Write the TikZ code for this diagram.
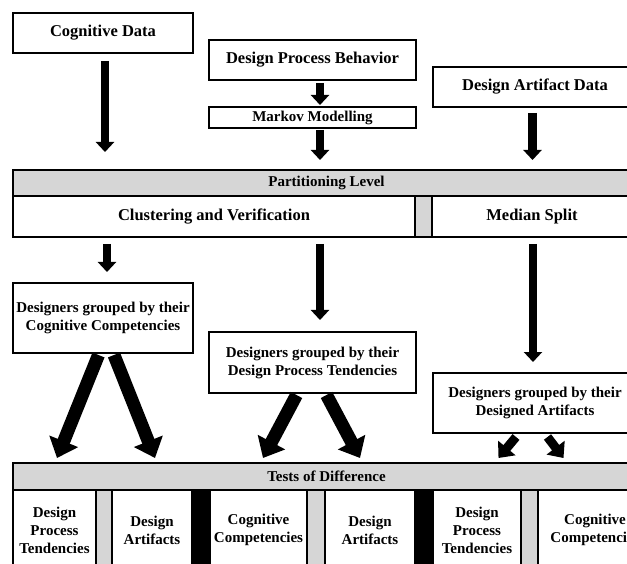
\documentclass[tikz,border=0pt]{standalone}
\usepackage{fontspec}
\setmainfont{Liberation Serif}
\usetikzlibrary{arrows.meta,positioning}

\tikzset{
  box/.style={draw,line width=1.8pt,fill=white,align=center,inner sep=0pt,outer sep=0pt,
    font=\fontsize{16.5}{20}\selectfont\bfseries},
  sbox/.style={box,font=\fontsize{15}{18}\selectfont\bfseries},
  bar/.style={sbox,fill=black!16},
  cell/.style={sbox,minimum height=80pt},
  thinarrow/.style={line width=8.5pt,-{Triangle[width=18pt,length=10pt]}},
  fatarrow/.style={line width=13pt,-{Triangle[width=30pt,length=18pt]}},
  smallarrow/.style={line width=9pt,-{Triangle[width=22pt,length=13pt]}},
}

\begin{document}
\begin{tikzpicture}[x=1pt,y=-1pt]
\useasboundingbox (0,0) rectangle (627,564);
\clip (0,0) rectangle (627,564);
% data sources
\node[box,minimum width=180pt,minimum height=40pt,anchor=north west] (cog) at (13,13) {Cognitive Data};
\node[box,minimum width=207pt,minimum height=40pt,anchor=north west] (dpb) at (209,40) {Design Process Behavior};
\node[sbox,minimum width=207pt,minimum height=21pt,anchor=north west] (markov) at (209,107) {Markov Modelling};
\node[box,minimum width=204pt,minimum height=40pt,anchor=north west] (dad) at (433,67) {Design Artifact Data};
\draw[thinarrow] (cog.south)+(2,8) -- +(2,99);
\draw[thinarrow] (dpb.south)+(7.5,3) -- +(7.5,25);
\draw[thinarrow] (markov.south)+(7.5,2) -- +(7.5,32);
\draw[thinarrow] (dad.south)+(-2.5,6) -- +(-2.5,53);
% partitioning
\node[bar,minimum width=627pt,minimum height=26pt,anchor=north west] (part) at (13,170) {Partitioning Level};
\node[box,minimum width=402pt,minimum height=41pt,anchor=north west] (clust) at (part.south west) {Clustering and Verification};
\node[bar,minimum width=17pt,minimum height=41pt,right=0pt of clust] (pgap) {};
\node[box,minimum width=200pt,minimum height=41pt,right=0pt of pgap] (median) {Median Split};
% groups
\node[sbox,minimum width=180pt,minimum height=70pt,anchor=north west] (grcog) at (13,283) {Designers grouped by their\\Cognitive Competencies};
\node[sbox,minimum width=207pt,minimum height=61pt,anchor=north west] (grdpt) at (209,332) {Designers grouped by their\\Design Process Tendencies};
\node[sbox,minimum width=204pt,minimum height=60pt,anchor=north west] (grda) at (433,373) {Designers grouped by their\\Designed Artifacts};
\draw[thinarrow] (clust.south west)+(94,7) -- +(94,35);
\draw[thinarrow] (clust.south west)+(307,7) -- +(307,83);
\draw[thinarrow] (median.south)+(1,7) -- +(1,125);
\draw[fatarrow] (grcog.south)+(-4.5,2) -- +(-46,105);
\draw[fatarrow] (grcog.south)+(11,2) -- +(52,105);
\draw[fatarrow] (grdpt.south)+(-16,2) -- +(-49.5,65);
\draw[fatarrow] (grdpt.south)+(14,2) -- +(47.5,65);
\draw[smallarrow] (grda.south)+(-19,4) -- +(-36.5,25);
\draw[smallarrow] (grda.south)+(12.5,4) -- +(28.5,25);
% tests of difference
\node[bar,minimum width=627pt,minimum height=27pt,anchor=north west] (tests) at (13,463) {Tests of Difference};
\node[cell,minimum width=83pt,anchor=north west] (c1) at (tests.south west) {Design\\Process\\Tendencies};
\node[cell,fill=black!16,minimum width=16pt,right=0pt of c1] (g1) {};
\node[cell,minimum width=80pt,right=0pt of g1] (c2) {Design\\Artifacts};
\node[cell,fill=black,minimum width=18pt,right=0pt of c2] (k1) {};
\node[cell,minimum width=97pt,right=0pt of k1] (c3) {Cognitive\\Competencies};
\node[cell,fill=black!16,minimum width=18pt,right=0pt of c3] (g2) {};
\node[cell,minimum width=90pt,right=0pt of g2] (c4) {Design\\Artifacts};
\node[cell,fill=black,minimum width=18pt,right=0pt of c4] (k2) {};
\node[cell,minimum width=88pt,right=0pt of k2] (c5) {Design\\Process\\Tendencies};
\node[cell,fill=black!16,minimum width=17pt,right=0pt of c5] (g3) {};
\node[cell,minimum width=114pt,right=0pt of g3] (c6) {Cognitive\\Competencies};
\end{tikzpicture}
\end{document}
